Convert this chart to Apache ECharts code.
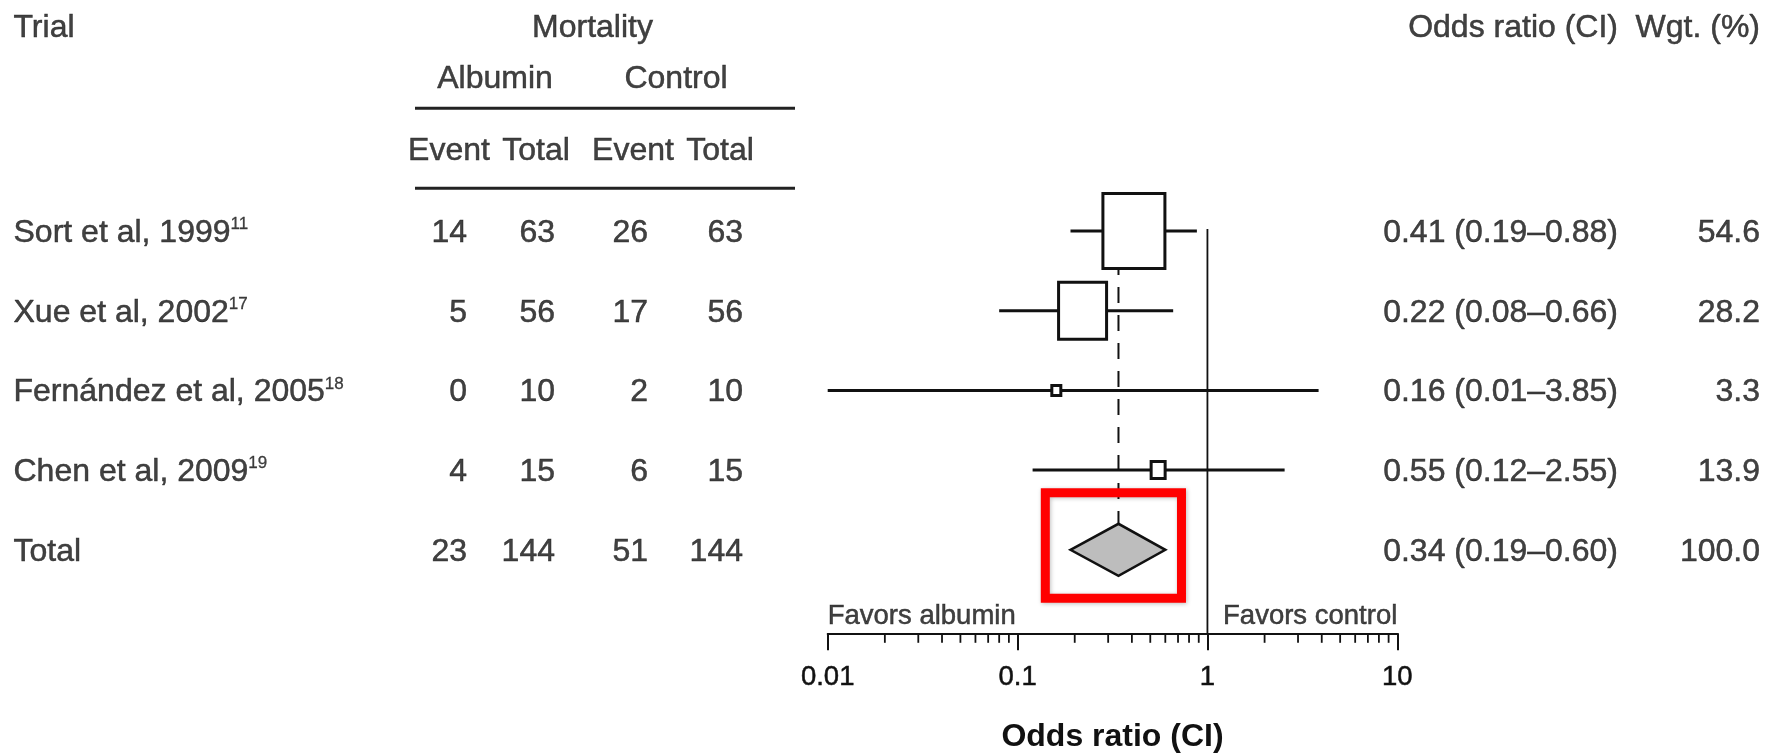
<!DOCTYPE html>
<html>
<head>
<meta charset="utf-8">
<title>Albumin vs control: mortality forest plot</title>
<script src="https://cdn.jsdelivr.net/npm/echarts@6/dist/echarts.min.js"></script>
<style>
  html, body { margin: 0; padding: 0; background: #fff; }
  #chart { width: 1779px; height: 753px; }
</style>
</head>
<body>
<div id="chart"></div>
<script>
// ---- data ----
const trials     = ['Sort et al, 1999', 'Xue et al, 2002', 'Fernández et al, 2005', 'Chen et al, 2009', 'Total'];
const refNumbers = ['11', '17', '18', '19', ''];
const albuminEvents = [14, 5, 0, 4, 23];
const albuminTotals = [63, 56, 10, 15, 144];
const controlEvents = [26, 17, 2, 6, 51];
const controlTotals = [63, 56, 10, 15, 144];
const oddsRatio = [0.41, 0.22, 0.16, 0.55, 0.34];
const ciLow     = [0.19, 0.08, 0.01, 0.12, 0.19];
const ciHigh    = [0.88, 0.66, 3.85, 2.55, 0.60];
const weightPct = [54.6, 28.2, 3.3, 13.9, 100.0];
const axisTicks = [0.01, 0.1, 1, 10];
const pooledIndex = 4;

// ---- layout & style ----
const W = 1779, H = 753;
const ROW0 = 231, PITCH = 79.7;            // first row centre, row spacing (px)
const AXIS_Y = 633.3;                      // odds-ratio axis line (px)
const PLOT_L = 827.7, PLOT_R = 1397.3;     // log axis extent (px)
const FONT = "'Liberation Sans', Arial, Helvetica, sans-serif";
const INK = '#111';
const BODY = 32, AXIS_FONT = 27.5, SUP = 17, NAME_FONT = 32;
const TEXT_DY = 2;                         // baseline nudge for table text
const HEAVY = { textBorderColor: INK, textBorderWidth: 0.5 };
// study square sizes [w, h] in px
const boxPx = [[62, 75], [48, 57], [9, 10], [14, 17]];
const DIAMOND_HALF = 26;
// red highlight around the pooled estimate: [xFrom, rowFrom, xTo, rowTo]
const highlight = [0.14, 3.284, 0.73, 4.609];

const rowOf = px => (px - ROW0) / PITCH;
const yMaxForest = (AXIS_Y - ROW0) / PITCH;

// column anchors in the table grid (x in px units of that grid)
const COL = { trial: 13.5, albEv: 467, albTot: 555, ctlEv: 648, ctlTot: 743, or: 1618, wgt: 1760 };
const HEAD = {
  titleY: 26, groupY: 77, subY: 149, rule1: 108.3, rule2: 188.3, ruleL: 415, ruleR: 795,
  mortalityX: 592.5, albuminX: 495, controlX: 676, subX: [449, 536, 633, 720]
};

function textSeries(items, align) {
  return {
    type: 'scatter', xAxisIndex: 1, yAxisIndex: 1, symbolSize: 0, silent: true,
    data: items.map(it => ({ value: [it[0], it[1]], name: it[2] })),
    label: Object.assign({
      show: true, position: [0, 0], align: align, verticalAlign: 'middle', offset: [0, TEXT_DY],
      formatter: '{b}', fontFamily: FONT, fontSize: BODY, color: INK
    }, HEAVY)
  };
}

const fmt2 = v => v.toFixed(2);
const orText = trials.map((_, i) => `${fmt2(oddsRatio[i])} (${fmt2(ciLow[i])}\u2013${fmt2(ciHigh[i])})`);

const series = [];

// header texts
series.push(textSeries([
  [COL.trial, rowOf(HEAD.titleY), 'Trial']
], 'left'));
series.push(textSeries([
  [HEAD.mortalityX, rowOf(HEAD.titleY), 'Mortality'],
  [HEAD.albuminX, rowOf(HEAD.groupY), 'Albumin'],
  [HEAD.controlX, rowOf(HEAD.groupY), 'Control'],
  [HEAD.subX[0], rowOf(HEAD.subY), 'Event'],
  [HEAD.subX[1], rowOf(HEAD.subY), 'Total'],
  [HEAD.subX[2], rowOf(HEAD.subY), 'Event'],
  [HEAD.subX[3], rowOf(HEAD.subY), 'Total']
], 'center'));
series.push(textSeries([
  [COL.or, rowOf(HEAD.titleY), 'Odds ratio (CI)'],
  [COL.wgt, rowOf(HEAD.titleY), 'Wgt. (%)']
], 'right'));

// header rules
series.push({
  type: 'custom', xAxisIndex: 1, yAxisIndex: 1, silent: true,
  data: [[HEAD.ruleL, rowOf(HEAD.rule1), HEAD.ruleR], [HEAD.ruleL, rowOf(HEAD.rule2), HEAD.ruleR]],
  renderItem: (params, api) => {
    const a = api.coord([api.value(0), api.value(1)]);
    const b = api.coord([api.value(2), api.value(1)]);
    return { type: 'line', shape: { x1: a[0], y1: a[1], x2: b[0], y2: b[1] },
             style: { stroke: '#222', lineWidth: 3 } };
  }
});

// trial names with reference superscripts
series.push({
  type: 'scatter', xAxisIndex: 1, yAxisIndex: 1, symbolSize: 0, silent: true,
  data: trials.map((t, i) => ({ value: [COL.trial, i], name: t, ref: refNumbers[i] })),
  label: {
    show: true, position: [0, 0], align: 'left', verticalAlign: 'middle', offset: [0, TEXT_DY],
    formatter: p => `{n|${p.name}}` + (p.data.ref ? `{s|${p.data.ref}}` : ''),
    rich: {
      n: Object.assign({ fontFamily: FONT, fontSize: BODY, color: INK, lineHeight: 34 }, HEAVY),
      s: Object.assign({ fontFamily: FONT, fontSize: SUP, color: INK, lineHeight: 17, verticalAlign: 'top' },
                       { textBorderColor: INK, textBorderWidth: 0.3 })
    }
  }
});

// count columns
const countCols = [
  [COL.albEv, albuminEvents], [COL.albTot, albuminTotals],
  [COL.ctlEv, controlEvents], [COL.ctlTot, controlTotals]
];
countCols.forEach(([x, arr]) => {
  series.push(textSeries(arr.map((v, i) => [x, i, String(v)]), 'right'));
});
series.push(textSeries(orText.map((s, i) => [COL.or, i, s]), 'right'));
series.push(textSeries(weightPct.map((v, i) => [COL.wgt, i, v.toFixed(1)]), 'right'));

// ---- forest plot (grid 0, log x-axis) ----
// line of no effect
series.push({
  type: 'custom', xAxisIndex: 0, yAxisIndex: 0, silent: true, z: 1,
  data: [[1, 0, yMaxForest]],
  renderItem: (params, api) => {
    const a = api.coord([api.value(0), api.value(1)]);
    const b = api.coord([api.value(0), api.value(2)]);
    return { type: 'line', shape: { x1: a[0], y1: a[1] - 2, x2: b[0], y2: b[1] },
             style: { stroke: INK, lineWidth: 1.8 } };
  }
});
// pooled estimate reference (dashed)
series.push({
  type: 'custom', xAxisIndex: 0, yAxisIndex: 0, silent: true, z: 1,
  data: [[oddsRatio[pooledIndex], 0, pooledIndex]],
  renderItem: (params, api) => {
    const a = api.coord([api.value(0), api.value(1)]);
    const b = api.coord([api.value(0), api.value(2)]);
    return { type: 'line', shape: { x1: a[0], y1: a[1], x2: b[0], y2: b[1] - DIAMOND_HALF },
             style: { stroke: INK, lineWidth: 2, lineDash: [16, 12] } };
  }
});
// confidence interval whiskers
series.push({
  type: 'custom', xAxisIndex: 0, yAxisIndex: 0, silent: true, z: 2,
  data: trials.slice(0, pooledIndex).map((_, i) => [ciLow[i], ciHigh[i], i]),
  renderItem: (params, api) => {
    const a = api.coord([api.value(0), api.value(2)]);
    const b = api.coord([api.value(1), api.value(2)]);
    return { type: 'line', shape: { x1: a[0], y1: a[1], x2: b[0], y2: b[1] },
             style: { stroke: INK, lineWidth: 3 } };
  }
});
// study squares
series.push({
  type: 'custom', xAxisIndex: 0, yAxisIndex: 0, silent: true, z: 3,
  data: trials.slice(0, pooledIndex).map((_, i) => [oddsRatio[i], i]),
  renderItem: (params, api) => {
    const c = api.coord([api.value(0), api.value(1)]);
    const [w, h] = boxPx[params.dataIndex];
    return { type: 'rect', shape: { x: c[0] - w / 2, y: c[1] - h / 2, width: w, height: h },
             style: { fill: '#fff', stroke: INK, lineWidth: 3 } };
  }
});
// pooled diamond
series.push({
  type: 'custom', xAxisIndex: 0, yAxisIndex: 0, silent: true, z: 3,
  data: [[ciLow[pooledIndex], oddsRatio[pooledIndex], ciHigh[pooledIndex], pooledIndex]],
  renderItem: (params, api) => {
    const r = api.value(3);
    const l = api.coord([api.value(0), r]);
    const m = api.coord([api.value(1), r]);
    const h = api.coord([api.value(2), r]);
    return { type: 'polygon',
             shape: { points: [[l[0], l[1]], [m[0], m[1] - DIAMOND_HALF], [h[0], h[1]], [m[0], m[1] + DIAMOND_HALF]] },
             style: { fill: '#bdbdbd', stroke: INK, lineWidth: 2.5, lineJoin: 'miter' } };
  }
});
// minor ticks at 2..9 within each decade
const minorTicks = [];
for (let d = 0; d < axisTicks.length - 1; d++) {
  for (let k = 2; k <= 9; k++) minorTicks.push([axisTicks[d] * k, yMaxForest]);
}
series.push({
  type: 'custom', xAxisIndex: 0, yAxisIndex: 0, silent: true, z: 2,
  data: minorTicks,
  renderItem: (params, api) => {
    const c = api.coord([api.value(0), api.value(1)]);
    return { type: 'line', shape: { x1: c[0], y1: c[1], x2: c[0], y2: c[1] + 9.5 },
             style: { stroke: INK, lineWidth: 1.8 } };
  }
});
// favour labels above the axis
series.push({
  type: 'scatter', xAxisIndex: 0, yAxisIndex: 0, symbolSize: 0, silent: true,
  data: [
    { value: [axisTicks[0], yMaxForest], name: 'Favors albumin', label: { align: 'left' } },
    { value: [axisTicks[axisTicks.length - 1], yMaxForest], name: 'Favors control', label: { align: 'right' } }
  ],
  label: Object.assign({ show: true, position: [0, 0], verticalAlign: 'bottom', offset: [0, -3],
           formatter: '{b}', fontFamily: FONT, fontSize: AXIS_FONT, color: INK }, HEAVY)
});
// highlight frame around the pooled estimate
series.push({
  type: 'custom', xAxisIndex: 0, yAxisIndex: 0, silent: true, z: 6,
  data: [highlight],
  renderItem: (params, api) => {
    const a = api.coord([api.value(0), api.value(1)]);
    const b = api.coord([api.value(2), api.value(3)]);
    return { type: 'rect', shape: { x: a[0], y: a[1], width: b[0] - a[0], height: b[1] - a[1] },
             style: { fill: 'none', stroke: '#ff0000', lineWidth: 9,
                      shadowBlur: 4, shadowColor: 'rgba(0,0,0,0.25)', shadowOffsetX: 1, shadowOffsetY: 1 } };
  }
});

const chart = echarts.init(document.getElementById('chart'), null, { renderer: 'canvas' });
chart.setOption({
  animation: false,
  backgroundColor: '#fff',
  textStyle: { fontFamily: FONT },
  grid: [
    { left: PLOT_L, top: ROW0 - 0.5 * PITCH, width: PLOT_R - PLOT_L,
      height: AXIS_Y - (ROW0 - 0.5 * PITCH), containLabel: false, outerBoundsMode: 'none' },
    { left: 0, top: 0, width: W, height: H, containLabel: false, outerBoundsMode: 'none' }
  ],
  xAxis: [
    {
      gridIndex: 0, type: 'log', logBase: 10, min: axisTicks[0], max: axisTicks[axisTicks.length - 1],
      splitLine: { show: false },
      axisLine: { show: true, onZero: false, lineStyle: { color: INK, width: 2 } },
      axisTick: { show: true, inside: false, length: 17, lineStyle: { color: INK, width: 2 } },
      axisLabel: Object.assign({ show: true, margin: 30, fontFamily: FONT, fontSize: AXIS_FONT, color: INK,
                   formatter: v => String(+v.toPrecision(3)) }, HEAVY),
      name: 'Odds ratio (CI)', nameLocation: 'middle', nameGap: 88,
      nameTextStyle: { fontFamily: FONT, fontSize: NAME_FONT, fontWeight: 'bold', color: INK }
    },
    { gridIndex: 1, type: 'value', min: 0, max: W, show: false }
  ],
  yAxis: [
    { gridIndex: 0, type: 'value', inverse: true, min: -0.5, max: yMaxForest, show: false },
    { gridIndex: 1, type: 'value', inverse: true, min: rowOf(0), max: rowOf(H), show: false }
  ],
  series: series
});
</script>
</body>
</html>
